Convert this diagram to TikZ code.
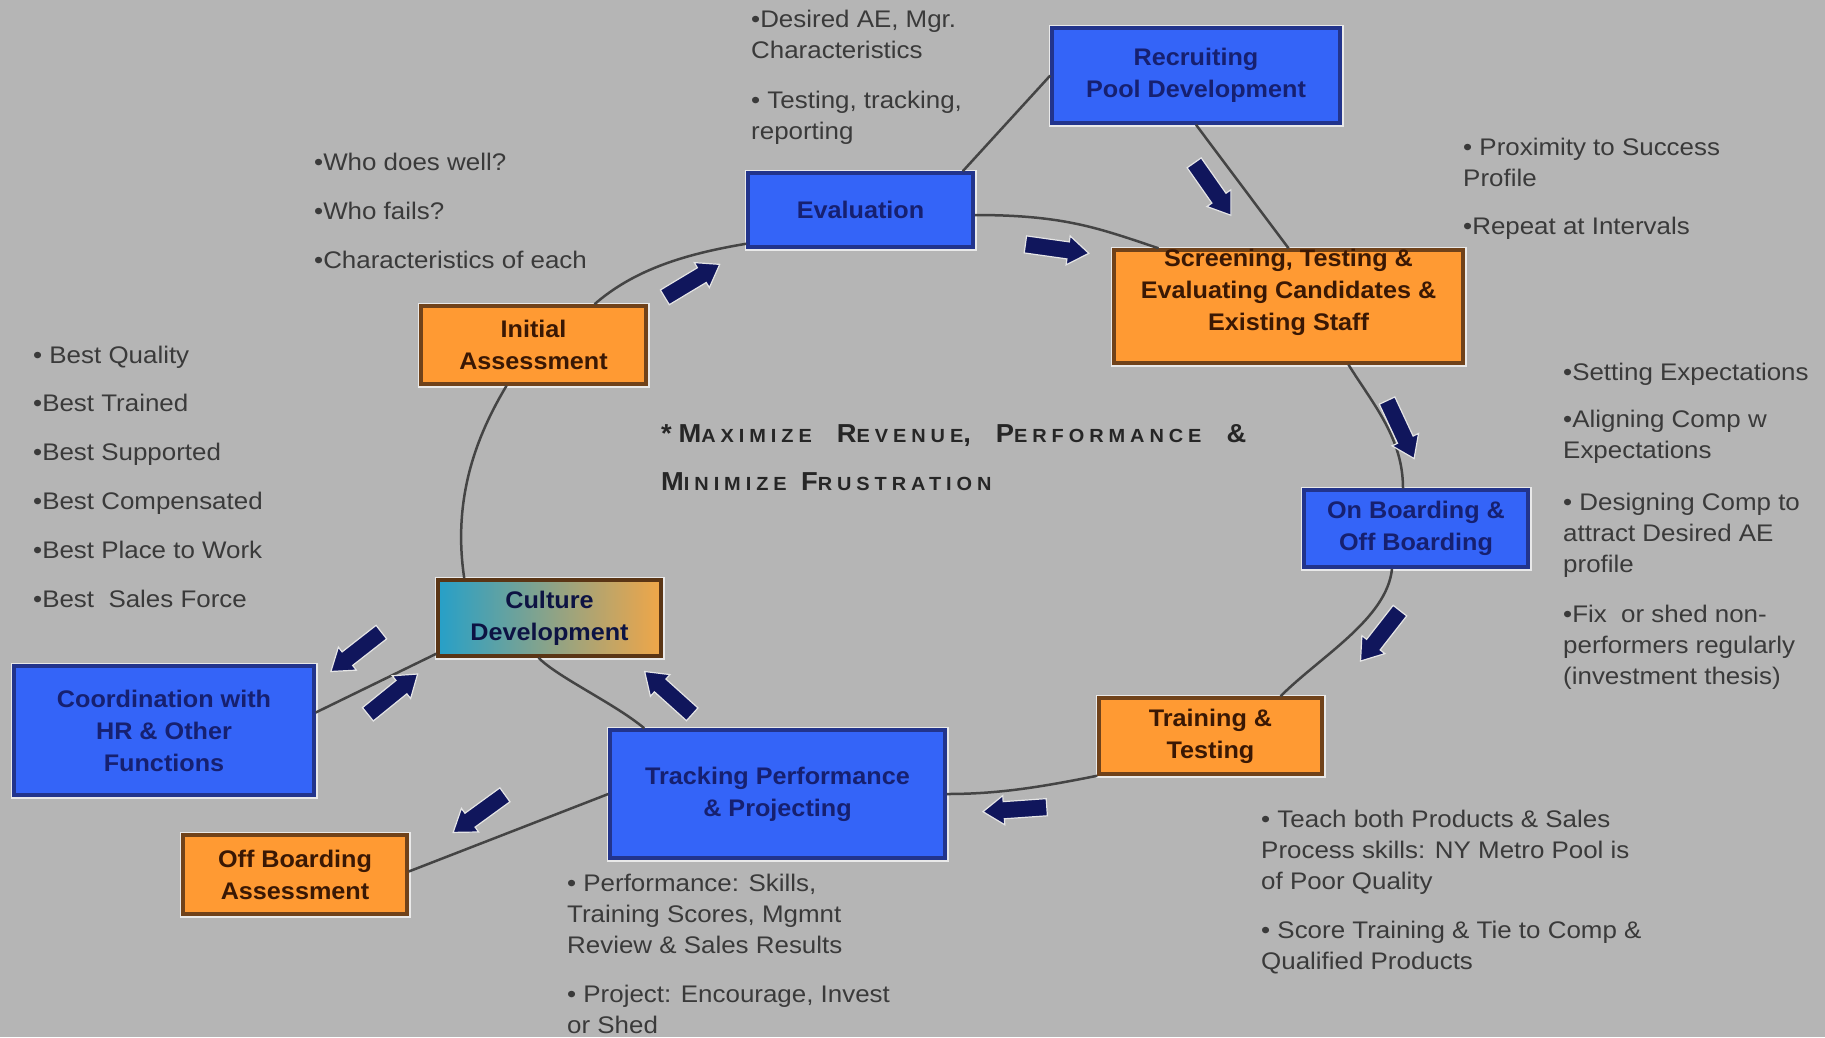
\documentclass[tikz,border=0pt]{standalone}
\usepackage{fontspec}
\setmainfont[FakeStretch=1.05]{Liberation Sans}
\newfontfamily\notefont[FakeStretch=1.08]{Liberation Sans}
\usetikzlibrary{shapes.arrows}
\definecolor{bg}{RGB}{181,181,181}
\definecolor{boxblue}{RGB}{52,100,248}
\definecolor{blueborder}{RGB}{34,52,140}
\definecolor{bluetext}{RGB}{22,32,112}
\definecolor{boxorange}{RGB}{255,154,51}
\definecolor{orangeborder}{RGB}{112,66,26}
\definecolor{orangetext}{RGB}{58,24,4}
\definecolor{arrowc}{RGB}{16,22,92}
\definecolor{notegray}{RGB}{58,58,58}
\definecolor{linec}{RGB}{68,68,68}
\definecolor{tealc}{RGB}{38,160,200}
\definecolor{orangec}{RGB}{240,166,72}
\newcommand\smc[1]{{\fontsize{19}{48}\selectfont #1}}
\newcommand\wsp{\hspace{25pt}}
\tikzset{
  halo/.style={preaction={draw=white!70!bg, line width=7pt}},
  boxbase/.style={halo, line width=3.5pt, align=center, inner sep=0pt,
    font=\bfseries\fontsize{24}{32}\selectfont},
  bluebox/.style={boxbase, draw=blueborder, fill=boxblue, text=bluetext},
  orangebox/.style={boxbase, draw=orangeborder, fill=boxorange, text=orangetext},
  note/.style={anchor=north west, align=left, inner sep=0pt, text=notegray,
    font=\notefont\fontsize{24}{31}\selectfont},
  conn/.style={draw=linec, line width=2.5pt},
  barrow/.style={single arrow, fill=arrowc, draw=white!65!bg, line width=1.2pt,
    minimum height=64pt, inner xsep=0pt, inner ysep=8pt,
    single arrow head extend=6pt, single arrow tip angle=70}
}
\begin{document}
\begin{tikzpicture}[x=1pt,y=-1pt]
\useasboundingbox (0,0) rectangle (1825,1037);
\fill[bg] (0,0) rectangle (1825,1037);

% boxes
\node[bluebox, minimum width=288, minimum height=95] (rec) at (1196,75.5) {Recruiting\\Pool Development};
\node[bluebox, minimum width=225, minimum height=74] (eval) at (860.5,210) {Evaluation};
\node[orangebox, minimum width=349, minimum height=113] (scr) at (1288.5,306.5) {};
\node[inner sep=0pt, align=center, text=orangetext, font=\bfseries\fontsize{24}{32}\selectfont] (scrt) at (1288.5,292) {Screening, Testing \&\\Evaluating Candidates \&\\Existing Staff};
\node[orangebox, minimum width=225, minimum height=78] (init) at (533.5,345) {Initial\\Assessment};
\node[bluebox, minimum width=224, minimum height=77] (onb) at (1416,528.5) {On Boarding \&\\Off Boarding};
\node[boxbase, draw=orangeborder!80!black, left color=tealc, right color=orangec, text=bluetext!60!black, minimum width=223, minimum height=76] (cult) at (549.5,618) {Culture\\Development};
\node[bluebox, minimum width=300, minimum height=129] (coord) at (164,730.5) {Coordination with\\HR \& Other\\Functions};
\node[orangebox, minimum width=223, minimum height=76] (train) at (1210.5,736) {Training \&\\Testing};
\node[bluebox, minimum width=335, minimum height=128] (track) at (777.5,794) {Tracking Performance\\\& Projecting};
\node[orangebox, minimum width=224, minimum height=79] (off) at (295,874.5) {Off Boarding\\Assessment};

% connectors
\draw[conn] ([xshift=-12]eval.north east) -- (rec.west);
\draw[conn] (rec.south) -- (scr.north);
\draw[conn] ([yshift=-5]eval.east) .. controls +(90,0) and +(-60,-20) .. ([xshift=-130]scr.north);
\draw[conn] ([xshift=60]scr.south) .. controls +(25,40) and +(0,-50) .. ([xshift=-13]onb.north);
\draw[conn] ([xshift=-24]onb.south) .. controls +(-5,50) and +(40,-40) .. ([xshift=70]train.north);
\draw[conn] (train.south west) .. controls +(-60,12) and +(50,0) .. (track.east);
\draw[conn] ([xshift=36]track.north west) .. controls +(-30,-25) and +(20,20) .. ([xshift=-11]cult.south);
\draw[conn] ([xshift=28]cult.north west) .. controls +(-12,-80) and +(-30,50) .. ([xshift=-27]init.south);
\draw[conn] ([xshift=61]init.north) .. controls +(40,-35) and +(-60,10) .. ([yshift=5]eval.south west);
\draw[conn] ([yshift=4]cult.south west) -- ([yshift=18]coord.east);
\draw[conn] (track.west) -- ([yshift=3]off.east);

% block arrows
\node[barrow, rotate=-8] (a1) at (1051,248) {};
\node[barrow, rotate=-55] (a2) at (1209,184) {};
\node[barrow, rotate=-65] (a3) at (1398,424) {};
\node[barrow, rotate=-128] (a4) at (1384,631) {};
\node[barrow, rotate=184] (a5) at (1021,809) {};
\node[barrow, rotate=138] (a6) at (673,697) {};
\node[barrow, rotate=-142] (a7) at (361,648) {};
\node[barrow, rotate=39] (a8) at (388,698) {};
\node[barrow, rotate=-144] (a9) at (484,810) {};
\node[barrow, rotate=31] (a10) at (687,284) {};

% notes
\node[note] (n1) at (751,10) {•Desired AE, Mgr.\\Characteristics};
\node[note] (n2) at (751,91) {• Testing, tracking,\\reporting};
\node[note] (n3) at (314,153) {•Who does well?};
\node[note] (n4) at (314,202) {•Who fails?};
\node[note] (n5) at (314,251) {•Characteristics of each};
\node[note] (n6) at (1463,138) {• Proximity to Success\\Profile};
\node[note] (n7) at (1463,217) {•Repeat at Intervals};
\node[note] (n8) at (1563,363) {•Setting Expectations};
\node[note] (n9) at (1563,410) {•Aligning Comp w\\Expectations};
\node[note] (n10) at (1563,493) {• Designing Comp to\\attract Desired AE\\profile};
\node[note] (n11) at (1563,605) {•Fix\ \ or shed non-\\performers regularly\\(investment thesis)};
\node[note] (n12) at (33,346) {• Best Quality};
\node[note] (n13) at (33,394) {•Best Trained};
\node[note] (n14) at (33,443) {•Best Supported};
\node[note] (n15) at (33,492) {•Best Compensated};
\node[note] (n16) at (33,541) {•Best Place to Work};
\node[note] (n17) at (33,590) {•Best\ \ Sales Force};
\node[note] (n18) at (567,874) {• Performance: Skills,\\Training Scores, Mgmnt\\Review \& Sales Results};
\node[note] (n19) at (567,985) {• Project: Encourage, Invest\\or Shed};
\node[note] (n20) at (1261,810) {• Teach both Products \& Sales\\Process skills: NY Metro Pool is\\of Poor Quality};
\node[note] (n21) at (1261,921) {• Score Training \& Tie to Comp \&\\Qualified Products};

% goal text
\node[anchor=north west, inner sep=0pt, align=left, text=black!85,
  font={\bfseries\fontsize{26}{48}\selectfont\addfontfeatures{LetterSpace=26}}] (goal) at (661,424)
  {*M\smc{AXIMIZE}\wsp R\smc{EVENUE},\wsp P\smc{ERFORMANCE}\wsp\&\\M\smc{INIMIZE} F\smc{RUSTRATION}};
\end{tikzpicture}
\end{document}
